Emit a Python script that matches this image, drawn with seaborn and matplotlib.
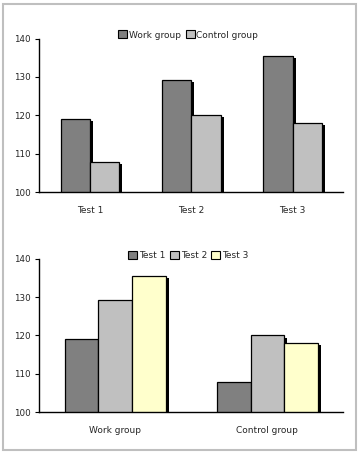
import seaborn as sns
import matplotlib.pyplot as plt
import matplotlib.patheffects as pe
from matplotlib.patches import Rectangle
import pandas as pd

# data
tests = ['Test 1', 'Test 2', 'Test 3']
groups = ['Work group', 'Control group']
work = [119.0, 129.3, 135.5]
control = [107.8, 120.0, 118.0]

df = pd.DataFrame({
    'test': tests * 2,
    'group': [groups[0]] * 3 + [groups[1]] * 3,
    'score': work + control,
})

sns.set_theme(style="white")
plt.rcParams['font.family'] = ['DejaVu Sans']

fig = plt.figure(figsize=(3.6, 4.53), dpi=100)
ax1 = fig.add_axes([0.109, 0.576, 0.845, 0.339])
ax2 = fig.add_axes([0.109, 0.090, 0.845, 0.339])

shadow = [pe.SimplePatchShadow(offset=(2.2, -1.5), shadow_rgbFace='black', alpha=1.0), pe.Normal()]

# top: tests on x, groups as hue
sns.barplot(data=df, x='test', y='score', hue='group', order=tests, hue_order=groups,
            palette=['#808080', '#C0C0C0'], width=0.58, edgecolor='black', linewidth=0.9,
            saturation=1, ax=ax1)

# bottom: groups on x, tests as hue
sns.barplot(data=df, x='group', y='score', hue='test', order=groups, hue_order=tests,
            palette=['#808080', '#C0C0C0', '#FFFFCC'], width=0.665, edgecolor='black',
            linewidth=0.9, saturation=1, ax=ax2)

for ax in (ax1, ax2):
    for p in ax.patches:
        p.set_path_effects(shadow)
    ax.set_ylim(100, 140)
    ax.set_yticks([100, 110, 120, 130, 140])
    ax.set_xlabel('')
    ax.set_ylabel('')
    for s in ('top', 'right'):
        ax.spines[s].set_visible(False)
    for s in ('left', 'bottom'):
        ax.spines[s].set_color('black')
        ax.spines[s].set_linewidth(1)
    ax.tick_params(axis='y', left=True, length=3, width=0.8, color='black', labelsize=6.3, pad=3)
    ax.tick_params(axis='x', bottom=False, labelsize=6.5, pad=4)
    leg = ax.legend(loc='lower center', bbox_to_anchor=(0.49, 0.97), ncol=3, frameon=False,
                    fontsize=6.5, handlelength=1.0, handleheight=1.0, handletextpad=0.2,
                    columnspacing=0.5, borderaxespad=0)
    for h in leg.legend_handles:
        h.set_path_effects([])
        h.set_edgecolor('black')
        h.set_linewidth(0.8)

# outer gray frame
fig.patches.append(Rectangle((0.009, 0.007), 0.981, 0.985, transform=fig.transFigure,
                             fill=False, edgecolor='#BFBFBF', linewidth=1.5))

fig.savefig('out.png', dpi=100)
